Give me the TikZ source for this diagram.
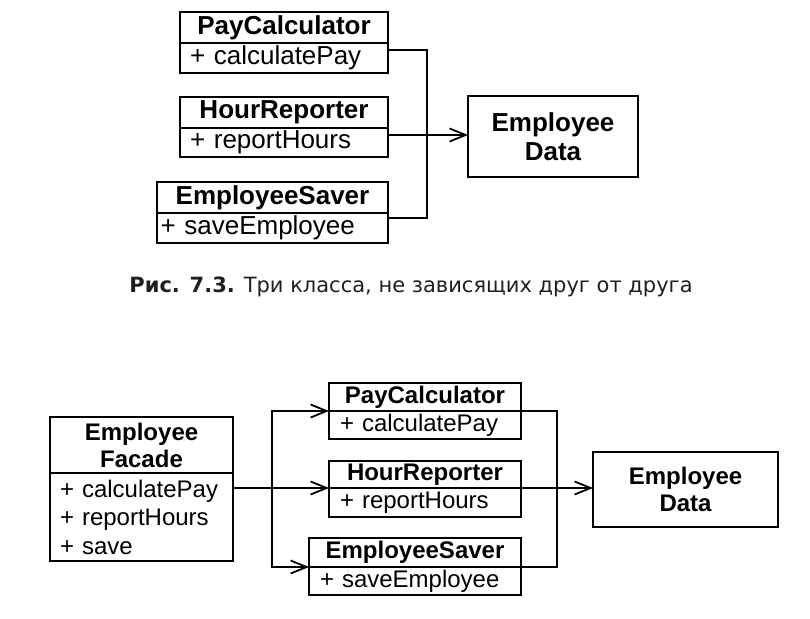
\documentclass[tikz,border=0pt]{standalone}
\usepackage{fontspec}
\setmainfont{Liberation Sans}
\newfontfamily\capfont{DejaVu Sans}
\usetikzlibrary{arrows.meta}
\begin{document}
\begin{tikzpicture}[x=1pt,y=-1pt,
  every node/.style={line width=1.8pt, inner sep=0pt, outer sep=0pt},
  hdr/.style={draw, font=\bfseries\fontsize{26}{29}\selectfont, align=center},
  hdrs/.style={draw, font=\bfseries\fontsize{24}{27}\selectfont, align=center},
  body/.style={draw, font=\fontsize{26}{29}\selectfont, align=left},
  bodys/.style={draw, font=\fontsize{24}{28.5}\selectfont, align=left},
  wire/.style={line width=1.8pt},
  arr/.style={wire, -{Straight Barb[length=16pt,width=13pt,line width=1.8pt]}}]
\useasboundingbox (0,0) rectangle (810,618);

% ---------- upper diagram: three independent classes ----------
\node[hdr, minimum width=208pt, minimum height=31pt] (pcH) at (284,27.5) {PayCalculator};
\node[body, anchor=north, minimum height=30pt, text width=188pt, inner xsep=10pt] (pcB) at (pcH.south) {+ calculatePay};

\node[hdr, minimum width=208pt, minimum height=31pt] (hrH) at (284,112.5) {HourReporter};
\node[body, anchor=north, minimum height=29pt, text width=188pt, inner xsep=10pt] (hrB) at (hrH.south) {+ reportHours};

\node[hdr, minimum width=231pt, minimum height=31pt] (esH) at (272.5,197.5) {EmployeeSaver};
\node[body, anchor=north, minimum height=30pt, text width=224pt, inner xsep=3.5pt] (esB) at (esH.south) {+ saveEmployee};

\node[hdr, minimum width=170pt, minimum height=81pt] (edA) at (553,136.5) {Employee\\Data};

\coordinate (jA) at (427,135);
\draw[wire] ([yshift=-7pt]pcB.north east) -| (jA);
\draw[wire] ([yshift=-5pt]esB.north east) -| (jA);
\draw[wire] ([yshift=-7pt]hrB.north east) -- (jA);
\draw[arr] (jA) -- (jA -| edA.west);

% ---------- caption ----------
\node[font=\capfont\fontsize{21}{25}\selectfont, text=black!88] (cap) at (411,287)
  {\textbf{Рис. 7.3.} Три класса, не зависящих друг от друга};

% ---------- lower diagram: facade ----------
\node[hdrs, minimum width=183pt, minimum height=56pt] (efH) at (141.5,445) {Employee\\Facade};
\node[bodys, anchor=north, minimum height=88pt, text width=163pt, inner xsep=10pt] (efB) at (efH.south)
  {+ calculatePay\\+ reportHours\\+ save};

\node[hdrs, minimum width=192pt, minimum height=28pt] (pcH2) at (425,397) {PayCalculator};
\node[bodys, anchor=north, minimum height=28pt, text width=170pt, inner xsep=11pt] (pcB2) at (pcH2.south) {+ calculatePay};

\node[hdrs, minimum width=192pt, minimum height=27pt] (hrH2) at (425,474.5) {HourReporter};
\node[bodys, anchor=north, minimum height=29pt, text width=170pt, inner xsep=11pt] (hrB2) at (hrH2.south) {+ reportHours};

\node[hdrs, minimum width=212pt, minimum height=29pt] (esH2) at (415,552.5) {EmployeeSaver};
\node[bodys, anchor=north, minimum height=28pt, text width=190pt, inner xsep=11pt] (esB2) at (esH2.south) {+ saveEmployee};

\node[hdrs, minimum width=185pt, minimum height=75pt] (edB) at (685.5,489.5) {Employee\\Data};

% fan-out from the facade
\coordinate (sL) at (272,488);
\draw[arr] ([yshift=-15pt]efB.north east) -- (hrH2.south west);
\draw[arr] (sL) |- (pcH2.south west);
\draw[arr] (sL) |- (esH2.south west);

% fan-in towards the data
\coordinate (sR) at (557,488);
\draw[wire] (pcH2.south east) -| (sR);
\draw[wire] (esH2.south east) -| (sR);
\draw[arr] (hrH2.south east) -- (hrH2.south east -| edB.west);
\end{tikzpicture}
\end{document}
